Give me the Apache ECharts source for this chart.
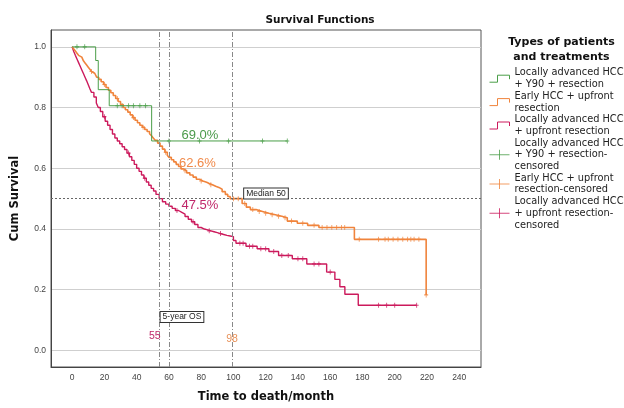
<!DOCTYPE html>
<html><head><meta charset="utf-8">
<script src="https://cdn.jsdelivr.net/npm/echarts@6/dist/echarts.min.js"></script>
<style>html,body{margin:0;padding:0;background:#fff}#c{width:624px;height:408px}</style>
</head><body><div id="c"></div>
<script>
// ---- data ----
const seriesNames = [
  'Locally advanced HCC\n+ Y90 + resection',
  'Early HCC + upfront\nresection',
  'Locally advanced HCC\n+ upfront resection',
  'Locally advanced HCC\n+ Y90 + resection-\ncensored',
  'Early HCC + upfront\nresection-censored',
  'Locally advanced HCC\n+ upfront resection-\ncensored'
];
const xTicks = [0,20,40,60,80,100,120,140,160,180,200,220,240];
const yTicks = [0,0.2,0.4,0.6,0.8,1.0];

const greenSteps = [[0,1],[14.6,0.955],[16.2,0.859],[23,0.806],[49.3,0.69],[133.4,0.69]];
const orangeSteps = [[0,1],[1,0.993],[2,0.986],[3,0.979],[4,0.972],[5,0.966],[6,0.96],[7,0.954],[8,0.947],[9,0.94],[10,0.933],[11,0.926],[12,0.919],[13,0.913],[14,0.907],[15.2,0.9],[16.5,0.893],[18,0.885],[19.5,0.876],[21,0.866],[22.5,0.857],[24,0.849],[25.5,0.84],[27,0.83],[28.5,0.82],[30,0.81],[31.7,0.8],[33,0.793],[34.5,0.785],[36,0.776],[37.5,0.767],[39,0.758],[40.5,0.75],[42,0.742],[43.5,0.735],[45,0.728],[46.5,0.721],[48,0.714],[49.2,0.707],[50.3,0.7],[51.5,0.692],[53,0.683],[54.5,0.673],[56,0.663],[57.5,0.653],[59,0.643],[60,0.636],[61.5,0.628],[63,0.621],[64.5,0.613],[66,0.606],[67.5,0.598],[69,0.592],[71,0.585],[73,0.578],[75,0.571],[77,0.564],[79,0.558],[81,0.554],[83.4,0.55],[85,0.546],[87,0.541],[89,0.537],[91,0.531],[93,0.523],[95,0.514],[96.5,0.507],[98,0.5],[105.4,0.484],[108,0.472],[110.5,0.464],[114,0.458],[118,0.452],[122,0.447],[126,0.442],[130,0.437],[133.4,0.426],[139.6,0.419],[146,0.412],[153,0.405],[175,0.366],[219.5,0.183]];
const magentaSteps = [[0,1],[1,0.985],[2,0.972],[3,0.96],[4,0.948],[5,0.936],[6,0.924],[7,0.912],[8,0.9],[9,0.888],[10,0.875],[11,0.862],[12,0.85],[13.5,0.835],[15,0.815],[16.2,0.8],[17.5,0.787],[19,0.77],[20.5,0.755],[22,0.742],[23.5,0.728],[25,0.713],[26.5,0.7],[28,0.69],[29.5,0.681],[31,0.671],[32.5,0.662],[34,0.65],[35.5,0.638],[37,0.626],[38.5,0.613],[40,0.6],[41.5,0.59],[43,0.578],[44.5,0.567],[46,0.555],[47.5,0.544],[49,0.534],[50.5,0.525],[52,0.514],[54,0.5],[56,0.49],[58,0.482],[60,0.475],[62,0.468],[64,0.461],[66,0.455],[68,0.449],[70,0.441],[72,0.432],[74,0.424],[76,0.415],[78,0.405],[80,0.4],[82,0.397],[84,0.394],[86,0.391],[88,0.388],[90,0.385],[92,0.382],[94,0.379],[96,0.377],[98,0.375],[100,0.362],[101.6,0.353],[107.8,0.343],[114.7,0.335],[122,0.326],[128,0.313],[136.5,0.302],[145.5,0.285],[157.8,0.258],[162.9,0.234],[166,0.21],[169.1,0.185],[177.4,0.149],[213.6,0.149]];

const greenCensored = [[3,1],[7.8,1],[28,0.806],[31,0.806],[35,0.806],[38,0.806],[42,0.806],[45.5,0.806],[60,0.69],[79,0.69],[97,0.69],[118,0.69],[133.4,0.69]];
const orangeCensored = [[12,0.919],[20,0.876],[28,0.83],[38,0.767],[44,0.735],[58,0.653],[70,0.592],[80,0.558],[86,0.546],[100,0.5],[103,0.5],[107,0.484],[112,0.464],[116,0.458],[120,0.452],[124,0.447],[128,0.442],[132,0.437],[136,0.426],[143,0.419],[150,0.412],[155,0.405],[158,0.405],[161,0.405],[164,0.405],[167,0.405],[169,0.405],[178,0.366],[190,0.366],[194,0.366],[196,0.366],[199,0.366],[202,0.366],[205,0.366],[208,0.366],[210,0.366],[212,0.366],[215,0.366],[219.5,0.183]];
const magentaCensored = [[20,0.77],[35,0.65],[45,0.567],[65,0.461],[75,0.424],[85,0.394],[92,0.385],[104,0.353],[106,0.353],[110,0.343],[112,0.343],[117,0.335],[120,0.335],[125,0.326],[130,0.313],[134,0.313],[140,0.302],[143,0.302],[150,0.285],[153,0.285],[160,0.258],[190,0.149],[195,0.149],[200,0.149],[213.6,0.149]];

const refLinesX = [54, 60, 99];
const medianLineY = 0.5;
const rateLabels = ['69.0%', '62.6%', '47.5%'];
const medianLabels = ['55', '98'];

// ---- styling ----
const colors = ['#4a9e48', '#f0843c', '#cc1a5c'];
const stepIcon = 'path://M0,9 L8,9 L8,2 L20,2 L20,6';
const crossIcon = 'path://M0,5 L20,5 M10,0 L10,10';
const plusSym = 'path://M0,5 L10,5 M5,0 L5,10';
const FONT = 'DejaVu Sans';

const chart = echarts.init(document.getElementById('c'), null, {renderer: 'canvas'});

function stepSeries(name, data, color, width, extra) {
  return Object.assign({
    name, type: 'line', step: 'end', data, showSymbol: false, symbol: 'none',
    lineStyle: {color, width}, itemStyle: {color}, silent: true, animation: false
  }, extra || {});
}
function censSeries(name, data, color) {
  return {
    name, type: 'scatter', data, symbol: plusSym, symbolSize: [4, 5],
    itemStyle: {color: 'none', borderColor: color, borderWidth: 1},
    silent: true, animation: false
  };
}
function txtPoint(coord, text, color, size, extraLabel) {
  return {
    coord, symbol: 'circle', symbolSize: 1, itemStyle: {color: 'rgba(0,0,0,0)'},
    label: Object.assign({show: true, position: 'inside', formatter: text, color,
      fontSize: size, fontFamily: 'Liberation Sans'}, extraLabel || {})
  };
}

const option = {
  backgroundColor: '#fff',
  animation: false,
  graphic: [
    {type: 'text', x: 320, y: 20, style: {text: 'Survival Functions', textAlign: 'center', textVerticalAlign: 'middle',
      font: 'bold 10.5px "DejaVu Sans"', fill: '#111'}},
    {type: 'text', x: 561.5, y: 49.5, style: {text: 'Types of patients\nand treatments', textAlign: 'center', textVerticalAlign: 'middle',
      font: 'bold 11px "DejaVu Sans"', lineHeight: 15, fill: '#111'}}
  ],
  grid: {left: 51, right: 143, top: 30, bottom: 38, show: true, borderColor: '#555', borderWidth: 1, backgroundColor: '#fff'},
  xAxis: {
    type: 'value', min: -13.1, max: 253.5,
    axisLine: {show: true, onZero: false, lineStyle: {color: '#444'}},
    axisTick: {show: false, customValues: xTicks},
    axisLabel: {customValues: xTicks, fontSize: 8.5, color: '#444', margin: 6, fontFamily: 'Liberation Sans'},
    splitLine: {show: false},
    name: 'Time to death/month', nameLocation: 'middle', nameGap: 24,
    nameTextStyle: {fontFamily: FONT, fontWeight: 'bold', fontSize: 11.5, color: '#111'}
  },
  yAxis: {
    type: 'value', min: -0.0545, max: 1.0555,
    axisLine: {show: true, onZero: false, lineStyle: {color: '#444'}},
    axisTick: {show: false, customValues: yTicks},
    axisLabel: {customValues: yTicks, fontSize: 8.5, color: '#444', margin: 5, fontFamily: 'Liberation Sans',
      formatter: v => v.toFixed(1)},
    splitLine: {show: true, lineStyle: {color: '#cfcfcf', width: 1}},
    name: 'Cum Survival', nameLocation: 'middle', nameGap: 30,
    nameTextStyle: {fontFamily: FONT, fontWeight: 'bold', fontSize: 11.5, color: '#111'}
  },
  legend: {
    orient: 'vertical', left: 487, top: 67, padding: 0, itemGap: 0, itemWidth: 20, itemHeight: 10,
    selectedMode: false,
    textStyle: {fontFamily: FONT, fontSize: 9.8, lineHeight: 11.7, color: '#222'},
    data: seriesNames.map((n, i) => ({
      name: n, icon: i < 3 ? stepIcon : crossIcon,
      itemStyle: {color: 'none', borderColor: colors[i % 3], borderWidth: 1}
    }))
  },
  series: [
    stepSeries(seriesNames[2], magentaSteps, colors[2], 1.4, {
      markPoint: {silent: true, data: [
        txtPoint([79.2, 0.478], rateLabels[2], '#c0286a', 13),
        txtPoint([51.3, 0.047], medianLabels[0], '#c0286a', 10.5)
      ]}
    }),
    stepSeries(seriesNames[1], orangeSteps, colors[1], 1.6, {
      markPoint: {silent: true, data: [
        txtPoint([77.7, 0.615], rateLabels[1], '#f08a4a', 13),
        txtPoint([99.1, 0.037], medianLabels[1], '#e8925a', 10.5)
      ]}
    }),
    stepSeries(seriesNames[0], greenSteps, colors[0], 1, {
      markPoint: {silent: true, data: [
        txtPoint([79.2, 0.709], rateLabels[0], '#4b9a4b', 13),
        txtPoint([120.2, 0.517], 'Median 50', '#222', 8.5,
          {borderColor: '#333', borderWidth: 1, padding: [1, 2, 0, 2], backgroundColor: '#fff'}),
        txtPoint([68.1, 0.11], '5-year OS', '#222', 8.5,
          {borderColor: '#333', borderWidth: 1, padding: [1, 2, 0, 2], backgroundColor: '#fff'})
      ]},
      markLine: {silent: true, symbol: 'none', label: {show: false},
        data: refLinesX.map(v => ({xAxis: v, lineStyle: {color: '#888', width: 1, type: [5, 2, 1, 2]}}))
          .concat([{yAxis: medianLineY, lineStyle: {color: '#666', width: 1, type: [2, 2]}}])
      }
    }),
    censSeries(seriesNames[3], greenCensored, colors[0]),
    censSeries(seriesNames[4], orangeCensored, colors[1]),
    censSeries(seriesNames[5], magentaCensored, colors[2])
  ]
};
chart.setOption(option);
</script></body></html>
